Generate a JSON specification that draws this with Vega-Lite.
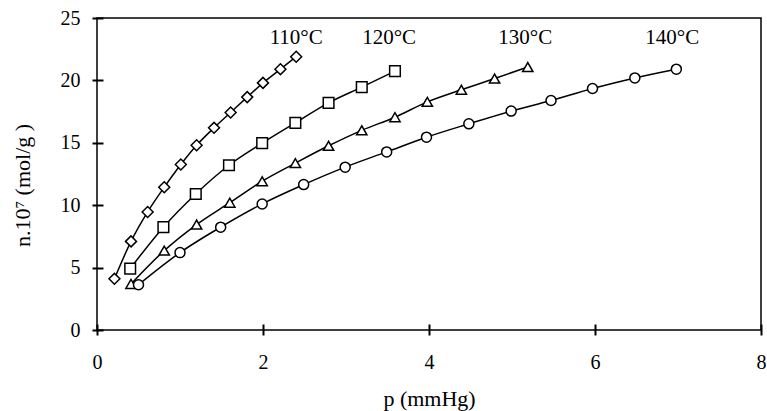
{
  "$schema": "https://vega.github.io/schema/vega-lite/v6.json",
  "width": 664,
  "height": 312,
  "autosize": {"type": "none"},
  "padding": {"left": 97, "top": 18, "right": 6, "bottom": 81},
  "background": "white",
  "config": {
    "view": {"stroke": "black", "strokeWidth": 1.5},
    "font": "Liberation Serif",
    "axis": {"ticks": true, "tickColor": "black", "tickWidth": 2, "tickSize": 11, "zindex": 1}
  },
  "data": {"values": [
      {"T": "110", "p": 0.21, "n": 4.1},
      {"T": "110", "p": 0.41, "n": 7.1},
      {"T": "110", "p": 0.61, "n": 9.46},
      {"T": "110", "p": 0.81, "n": 11.44},
      {"T": "110", "p": 1.01, "n": 13.26},
      {"T": "110", "p": 1.2, "n": 14.8},
      {"T": "110", "p": 1.41, "n": 16.2},
      {"T": "110", "p": 1.61, "n": 17.43},
      {"T": "110", "p": 1.81, "n": 18.66},
      {"T": "110", "p": 2.0, "n": 19.8},
      {"T": "110", "p": 2.21, "n": 20.9},
      {"T": "110", "p": 2.4, "n": 21.9},
      {"T": "120", "p": 0.4, "n": 4.92},
      {"T": "120", "p": 0.8, "n": 8.24},
      {"T": "120", "p": 1.19, "n": 10.9},
      {"T": "120", "p": 1.59, "n": 13.2},
      {"T": "120", "p": 1.99, "n": 14.97},
      {"T": "120", "p": 2.39, "n": 16.6},
      {"T": "120", "p": 2.79, "n": 18.2},
      {"T": "120", "p": 3.19, "n": 19.46},
      {"T": "120", "p": 3.59, "n": 20.74},
      {"T": "130", "p": 0.41, "n": 3.69},
      {"T": "130", "p": 0.81, "n": 6.36},
      {"T": "130", "p": 1.2, "n": 8.45},
      {"T": "130", "p": 1.6, "n": 10.2},
      {"T": "130", "p": 1.99, "n": 11.92},
      {"T": "130", "p": 2.39, "n": 13.37},
      {"T": "130", "p": 2.79, "n": 14.76},
      {"T": "130", "p": 3.19, "n": 16.0},
      {"T": "130", "p": 3.59, "n": 17.05},
      {"T": "130", "p": 3.98, "n": 18.28},
      {"T": "130", "p": 4.39, "n": 19.25},
      {"T": "130", "p": 4.79, "n": 20.15},
      {"T": "130", "p": 5.19, "n": 21.07},
      {"T": "140", "p": 0.5, "n": 3.63},
      {"T": "140", "p": 1.0, "n": 6.2},
      {"T": "140", "p": 1.49, "n": 8.24},
      {"T": "140", "p": 1.99, "n": 10.1},
      {"T": "140", "p": 2.49, "n": 11.65},
      {"T": "140", "p": 2.99, "n": 13.05},
      {"T": "140", "p": 3.49, "n": 14.27},
      {"T": "140", "p": 3.97, "n": 15.45},
      {"T": "140", "p": 4.48, "n": 16.52},
      {"T": "140", "p": 4.99, "n": 17.54},
      {"T": "140", "p": 5.47, "n": 18.39},
      {"T": "140", "p": 5.97, "n": 19.35},
      {"T": "140", "p": 6.48, "n": 20.2},
      {"T": "140", "p": 6.98, "n": 20.9}
  ]},
  "encoding": {
    "x": {"field": "p", "type": "quantitative", "scale": {"domain": [0, 8], "nice": false},
      "axis": {"tickCount": 4, "format": "d", "title": "p (mmHg)",
        "domain": false, "ticks": true, "tickColor": "black", "tickWidth": 2, "tickSize": 11, "offset": -6,
        "grid": false, "labelFlush": false,
        "labelFont": "Liberation Serif", "labelFontSize": 20, "labelColor": "black",
        "titleFont": "Liberation Serif", "titleFontSize": 22, "titleFontWeight": "normal", "titleColor": "black",
        "labelPadding": 17, "titlePadding": 16}},
    "y": {"field": "n", "type": "quantitative", "scale": {"domain": [0, 25], "nice": false},
      "axis": {"tickCount": 5, "format": "d", "title": "n.10⁷ (mol/g )",
        "domain": false, "ticks": true, "tickColor": "black", "tickWidth": 2, "tickSize": 11, "offset": -6,
        "grid": false,
        "labelFont": "Liberation Serif", "labelFontSize": 20, "labelColor": "black",
        "titleFont": "Liberation Serif", "titleFontSize": 22, "titleFontWeight": "normal", "titleColor": "black",
        "labelPadding": 12, "titlePadding": 26, "titleY": 167}}
  },
  "layer": [
    {
      "mark": {"type": "line", "interpolate": "monotone", "color": "black", "strokeWidth": 1.5},
      "encoding": {"detail": {"field": "T"}}
    },
    {
      "mark": {"type": "point", "filled": true, "fill": "white", "stroke": "black", "strokeWidth": 1.5, "opacity": 1},
      "encoding": {
        "shape": {"field": "T", "type": "nominal", "legend": null,
          "scale": {"domain": ["110", "120", "130", "140"], "range": ["diamond", "square", "triangle-up", "circle"]}},
        "size": {"field": "T", "type": "nominal", "legend": null,
          "scale": {"domain": ["110", "120", "130", "140"], "range": [120, 100, 140, 100]}}
      }
    },
    {
      "data": {"values": [
        {"label": "110°C", "p": 2.4, "n": 23.4},
        {"label": "120°C", "p": 3.52, "n": 23.4},
        {"label": "130°C", "p": 5.16, "n": 23.4},
        {"label": "140°C", "p": 6.93, "n": 23.4}
      ]},
      "mark": {"type": "text", "font": "Liberation Serif", "fontSize": 21, "color": "black", "baseline": "middle", "align": "center"},
      "encoding": {"text": {"field": "label"}}
    }
  ]
}
